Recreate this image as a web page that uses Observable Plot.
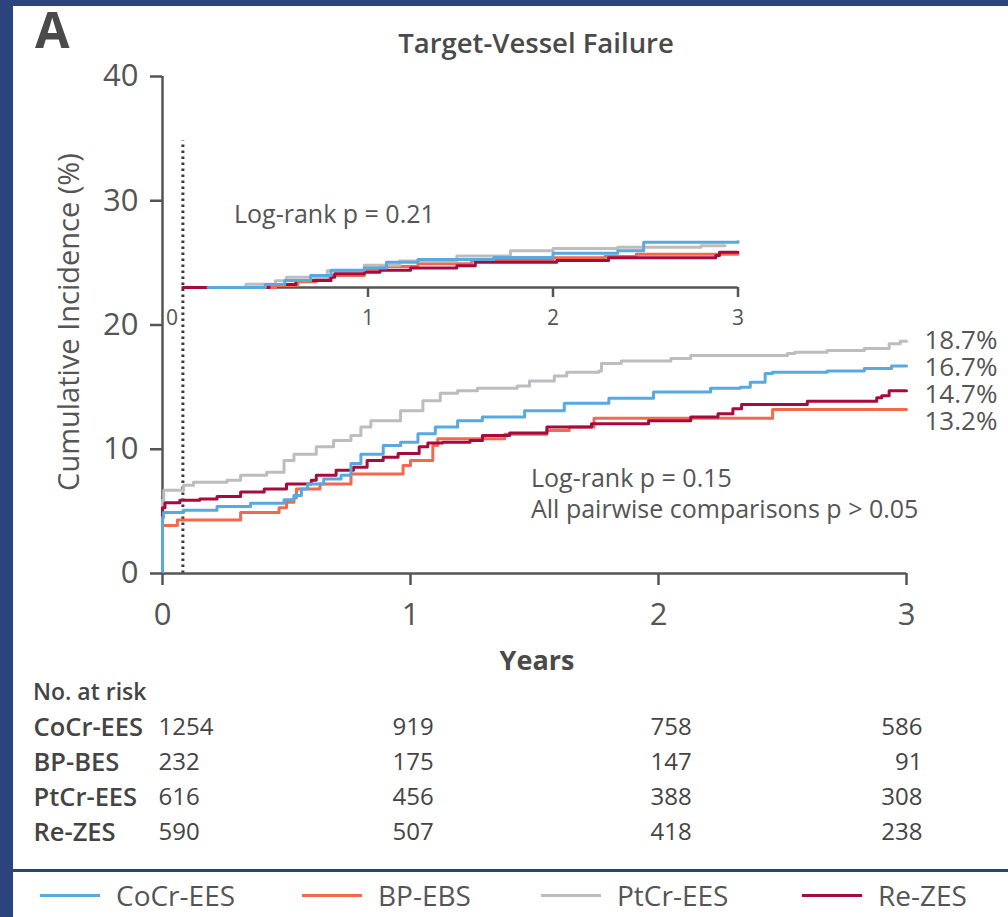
<!DOCTYPE html>
<html><head><meta charset="utf-8">
<script src="https://cdn.jsdelivr.net/npm/d3@7"></script>
<script src="https://cdn.jsdelivr.net/npm/@observablehq/plot@0.6"></script>
<style>
html,body{margin:0;padding:0;background:#2d437d;}
#root{position:relative;width:1008px;height:917px;background:#2d437d;overflow:hidden;font-family:"Open Sans",sans-serif;color:#555;}
#panel{position:absolute;left:13px;top:6px;width:995px;height:863px;background:#fff;}
#legendPanel{position:absolute;left:13px;top:872px;width:995px;height:45px;background:#fff;}
.abs{position:absolute;left:0;top:0;}
#legend{position:absolute;left:0;top:874px;width:1008px;height:42px;font-size:28px;color:#555;line-height:1;}
#legend .item{position:absolute;top:0;height:42px;display:flex;align-items:center;gap:16px;white-space:nowrap;}
#legend .sw{display:inline-block;width:60px;height:3px;}
</style></head>
<body>
<div id="root">
  <div id="panel"></div>
  <div id="legendPanel"></div>
  <div id="mainHost" class="abs"></div>
  <div id="insetHost" class="abs" style="left:150px;top:180px;"></div>
  <div id="riskHost" class="abs" style="top:690px;"></div>
  <div id="legend"></div>
</div>
<script>
// ---------- data ----------
const groups = ["CoCr-EES", "BP-BES", "PtCr-EES", "Re-ZES"];
const legendLabels = ["CoCr-EES", "BP-EBS", "PtCr-EES", "Re-ZES"];
const colors = ["#58a9df", "#f4694d", "#bdbdbf", "#a70b3d"];
const drawOrder = ["BP-BES", "PtCr-EES", "Re-ZES", "CoCr-EES"];

const xTicks = [0, 1, 2, 3];
const yTicks = [0, 10, 20, 30, 40];
const insetTicks = [1, 2, 3];
const landmarkYears = 30 / 365;
const landmarkTop = 34.8;

// main cumulative incidence curves [years, %]
const mainCoCr = [[0,0],[0,4.5],[0.004,4.9],[0.085,5.1],[0.22,5.4],[0.355,5.66],[0.49,5.93],[0.53,6.28],[0.56,6.8],[0.585,7.2],[0.65,7.6],[0.72,7.9],[0.76,8.85],[0.8,9.6],[0.89,10.3],[0.96,10.57],[1.03,11.25],[1.1,11.8],[1.19,12.3],[1.29,12.6],[1.46,13.1],[1.62,13.7],[1.8,14.1],[1.98,14.6],[2.21,14.9],[2.33,15.0],[2.37,15.4],[2.43,16.1],[2.46,16.2],[2.68,16.3],[2.83,16.5],[2.94,16.7],[3.0,16.7]];
const mainBP = [[0,0],[0,3.86],[0.06,4.3],[0.315,4.9],[0.47,5.3],[0.5,5.74],[0.53,6.1],[0.54,6.8],[0.635,7.2],[0.76,8.0],[0.97,8.7],[1.0,9.1],[1.09,10.3],[1.11,10.85],[1.38,11.2],[1.55,11.5],[1.64,11.8],[1.74,12.5],[2.46,13.2],[3.0,13.2]];
const mainPtCr = [[0,0],[0,5.9],[0.005,6.7],[0.085,7.1],[0.125,7.35],[0.26,7.5],[0.315,7.9],[0.42,8.15],[0.49,9.1],[0.53,9.6],[0.62,10.2],[0.69,10.7],[0.76,11.1],[0.8,11.8],[0.84,12.3],[0.96,13.1],[1.05,13.9],[1.12,14.5],[1.19,14.7],[1.27,14.9],[1.43,15.1],[1.48,15.5],[1.58,15.9],[1.63,16.2],[1.76,16.3],[1.77,16.9],[1.85,17.1],[2.05,17.3],[2.13,17.55],[2.52,17.7],[2.55,17.8],[2.68,17.95],[2.83,18.1],[2.93,18.5],[2.975,18.7],[3.0,18.7]];
const mainRe = [[0,0],[0,5.3],[0.01,5.7],[0.07,5.9],[0.15,6.0],[0.22,6.2],[0.315,6.55],[0.41,6.8],[0.5,7.2],[0.6,7.5],[0.62,7.9],[0.7,8.3],[0.77,8.55],[0.825,9.1],[0.89,9.36],[0.95,9.65],[1.035,10.2],[1.07,10.5],[1.13,10.57],[1.24,10.7],[1.29,11.1],[1.4,11.3],[1.55,11.8],[1.73,12.05],[1.96,12.3],[2.13,12.6],[2.24,12.85],[2.3,13.25],[2.335,13.6],[2.6,13.87],[2.88,14.15],[2.9,14.3],[2.93,14.7],[3.0,14.7]];

// inset (landmark after 30 days) curves [years, %]
const insetCoCr = [[0.135,0],[0.445,0.8],[0.55,1.8],[0.69,3.1],[0.8,4.4],[0.98,5.0],[1.1,6.5],[1.27,7.2],[1.68,7.7],[2.0,8.8],[2.35,9.4],[2.49,11.6],[3.0,11.8]];
const insetBP = [[0,0],[0.5,0.5],[0.62,1.5],[0.72,2.5],[0.8,3.1],[0.98,4.4],[1.065,5.4],[1.27,6.1],[1.56,6.9],[2.0,7.6],[2.28,7.95],[2.45,8.5],[3.0,8.5]];
const insetPtCr = [[0.1,0],[0.34,0.85],[0.5,1.7],[0.56,2.6],[0.78,4.3],[0.98,5.7],[1.17,6.8],[1.48,8.1],[1.77,9.4],[2.0,10.0],[2.35,10.3],[2.8,10.7],[2.93,10.7]];
const insetRe = [[0,0],[0.465,0.8],[0.61,1.8],[0.8,2.65],[0.82,3.5],[0.98,3.9],[1.065,4.4],[1.23,5.0],[1.48,5.6],[1.58,6.5],[2.02,6.9],[2.3,7.6],[2.88,8.2],[2.9,9.05],[3.0,9.05]];

const finalPct = [16.7, 13.2, 18.7, 14.7];

// numbers at risk at years 0,1,2,3
const riskYears = [0, 1, 2, 3];
const riskCoCr = [1254, 919, 758, 586];
const riskBP = [232, 175, 147, 91];
const riskPtCr = [616, 456, 388, 308];
const riskRe = [590, 507, 418, 238];

// ---------- build ----------
const mainSeries = [mainCoCr, mainBP, mainPtCr, mainRe];
const insetSeries = [insetCoCr, insetBP, insetPtCr, insetRe];
const riskSeries = [riskCoCr, riskBP, riskPtCr, riskRe];
const toRows = series => drawOrder.flatMap(g => series[groups.indexOf(g)].map(([t, v]) => ({group: g, t, v})));
const mainData = toRows(mainSeries);
const insetData = toRows(insetSeries);

const FONT = "Open Sans, sans-serif";
const AX = "#555";

// end labels, dodged so that they are at least 27px apart
const H = 700, mT = 76, mB = 127;
const pxPerUnit = (H - mT - mB) / 40;
const minGap = 27 / pxPerUnit;
const endLabels = groups.map((g, i) => ({group: g, v: finalPct[i], label: finalPct[i].toFixed(1) + "%"}))
  .sort((a, b) => b.v - a.v);
endLabels.forEach((d, i) => { d.ly = i === 0 ? d.v : Math.min(d.v, endLabels[i - 1].ly - minGap); });

const main = Plot.plot({
  width: 1008, height: H, marginLeft: 162, marginRight: 102, marginTop: mT, marginBottom: mB,
  x: {domain: [0, 3]}, y: {domain: [0, 40]},
  color: {domain: groups, range: colors},
  style: {background: "transparent", color: AX, fontFamily: FONT},
  marks: [
    Plot.ruleX([landmarkYears], {y1: 0, y2: landmarkTop, stroke: "#3a3a3a", strokeWidth: 3, strokeDasharray: "2.5,3.5"}),
    Plot.ruleY([0], {stroke: AX, strokeWidth: 2.5}),
    Plot.ruleX([0], {stroke: AX, strokeWidth: 2.5}),
    Plot.line(mainData, {x: "t", y: "v", z: "group", stroke: "group", strokeWidth: 3, curve: "step-after"}),
    Plot.axisY({ticks: yTicks, tickSize: 12, tickPadding: 12, label: null, strokeWidth: 2.5, fontSize: 31, fill: AX}),
    Plot.axisX({ticks: xTicks, tickSize: 12, tickPadding: 17, label: null, strokeWidth: 2.5, fontSize: 31, fill: AX, tickFormat: d => String(d)}),
    Plot.text(endLabels, {x: () => 3, y: "ly", text: "label", dx: 18, textAnchor: "start", fontSize: 26, fill: AX})
  ]
});
document.getElementById("mainHost").appendChild(main);

const inset = Plot.plot({
  width: 620, height: 150, marginLeft: 32.5, marginRight: 32.5, marginTop: 29, marginBottom: 43,
  x: {domain: [0, 3]}, y: {domain: [0, 20], axis: null},
  color: {domain: groups, range: colors},
  style: {background: "transparent", color: AX, fontFamily: FONT},
  marks: [
    Plot.ruleY([0], {stroke: AX, strokeWidth: 2.5}),
    Plot.line(insetData, {x: "t", y: "v", z: "group", stroke: "group", strokeWidth: 3, curve: "step-after"}),
    Plot.axisX({ticks: insetTicks, tickSize: 10, tickPadding: 13, label: null, strokeWidth: 2.5, fontSize: 21, fill: AX, tickFormat: d => String(d)}),
    Plot.axisX({ticks: [0], tickSize: 0, tickPadding: 23, dx: -11, label: null, fontSize: 21, fill: AX, tickFormat: d => String(d)})
  ]
});
document.getElementById("insetHost").appendChild(inset);

// number-at-risk table
const riskRows = groups.flatMap((g, i) => riskYears.map((t, j) => ({group: g, t, n: riskSeries[i][j], col: j})));
const colStyle = [
  {textAnchor: "start", dx: -4},
  {textAnchor: "start", dx: -18},
  {textAnchor: "start", dx: -8},
  {textAnchor: "end", dx: 16}
];
const risk = Plot.plot({
  width: 1008, height: 160, marginLeft: 162, marginRight: 102, marginTop: 0, marginBottom: 0,
  x: {domain: [0, 3], axis: null},
  y: {type: "point", domain: groups, range: [37, 142], padding: 0, axis: null},
  style: {background: "transparent", color: "#444", fontFamily: FONT},
  marks: [
    Plot.text(groups, {y: d => d, text: d => d, frameAnchor: "left", dx: -129, textAnchor: "start", fontSize: 25.5, fontWeight: 600, fill: "#444"}),
    ...colStyle.map((s, j) => Plot.text(riskRows.filter(d => d.col === j), {x: "t", y: "group", text: d => String(d.n), fontSize: 24, fill: "#444", ...s}))
  ]
});
document.getElementById("riskHost").appendChild(risk);

// overlay annotations
const ov = d3.select("#root").append("svg").attr("class", "abs").attr("width", 1008).attr("height", 917)
  .style("pointer-events", "none").style("font-family", FONT);
const T = (x, y, s, size, opts = {}) => ov.append("text").attr("x", x).attr("y", y).text(s)
  .attr("font-size", size).attr("fill", opts.fill || AX).attr("font-weight", opts.weight || 400)
  .attr("text-anchor", opts.anchor || "start").attr("transform", opts.transform || null);
T(35, 48, "A", 50, {weight: 700, fill: "#4a4a4a"});
T(536, 53, "Target-Vessel Failure", 27.5, {weight: 600, anchor: "middle", fill: "#4a4a4a"});
T(0, 0, "Cumulative Incidence (%)", 29, {anchor: "middle", weight: 500, transform: "translate(79,322) rotate(-90)"});
T(234, 223, "Log-rank p = 0.21", 25);
T(531, 487, "Log-rank p = 0.15", 25);
T(531, 518, "All pairwise comparisons p > 0.05", 25);
T(537, 670, "Years", 27, {weight: 700, anchor: "middle", fill: "#4a4a4a"});
T(33, 700, "No. at risk", 23, {weight: 600, fill: "#444"});

// legend (item start positions in px, as in the reference)
const legendX = [40, 302, 541, 802];
const lg = d3.select("#legend");
legendLabels.forEach((l, i) => {
  const it = lg.append("div").attr("class", "item").style("left", legendX[i] + "px");
  it.append("span").attr("class", "sw").style("background", colors[i]);
  it.append("span").text(l);
});
</script>
</body></html>
